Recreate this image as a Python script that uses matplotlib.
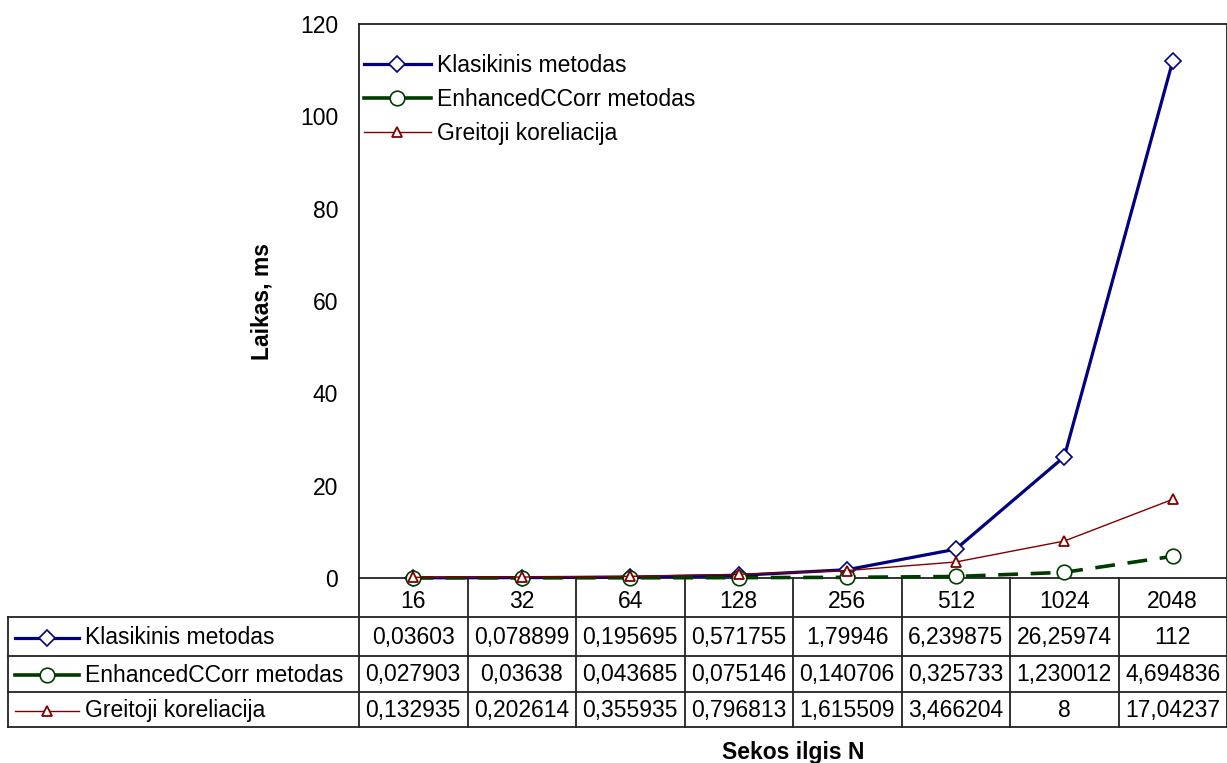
import matplotlib.pyplot as plt
from matplotlib.lines import Line2D
import matplotlib.transforms as mtransforms

plt.rcParams['font.family'] = ['Liberation Sans', 'DejaVu Sans']

# sequence lengths and timings (ms)
lengths = ['16', '32', '64', '128', '256', '512', '1024', '2048']
klasikinis = [0.03603, 0.078899, 0.195695, 0.571755, 1.79946, 6.239875, 26.25974, 112]
enhanced = [0.027903, 0.03638, 0.043685, 0.075146, 0.140706, 0.325733, 1.230012, 4.694836]
greitoji = [0.132935, 0.202614, 0.355935, 0.796813, 1.615509, 3.466204, 8, 17.04237]

klasikinis_txt = ['0,03603', '0,078899', '0,195695', '0,571755', '1,79946', '6,239875', '26,25974', '112']
enhanced_txt = ['0,027903', '0,03638', '0,043685', '0,075146', '0,140706', '0,325733', '1,230012', '4,694836']
greitoji_txt = ['0,132935', '0,202614', '0,355935', '0,796813', '1,615509', '3,466204', '8', '17,04237']

series_names = ['Klasikinis metodas', 'EnhancedCCorr metodas', 'Greitoji koreliacija']

W, H = 1227, 763
fig = plt.figure(figsize=(W / 100, H / 100), dpi=100)

def fx(px):
    return px / W

def fy(py):
    return 1 - py / H

ax_l, ax_r, ax_t, ax_b = 359, 1227, 24, 578
ax = fig.add_axes([fx(ax_l), fy(ax_b), fx(ax_r - ax_l), (ax_b - ax_t) / H])

styles = [
    dict(color='#000080', lw=2.3, marker='D', ms=8, mfc='white', mec='#000080', mew=1.2, ls='-'),
    dict(color='#003c00', lw=2.6, marker='o', ms=10.5, mfc='white', mec='#003c00', mew=1.2, ls=(0, (5.5, 3.5))),
    dict(color='#800000', lw=1.0, marker='^', ms=7.5, mfc='white', mec='#800000', mew=1.3, ls='-'),
]

x = list(range(len(lengths)))
for vals, st in zip([klasikinis, enhanced, greitoji], styles):
    ax.plot(x, vals, clip_on=False, zorder=3, **st)

ax.set_xlim(-0.5, len(lengths) - 0.5)
ax.set_ylim(0, 120)
ax.set_yticks(range(0, 121, 20))
ax.set_xticks(x)
ax.set_xticklabels(lengths)
ax.tick_params(axis='both', length=0, labelsize=16.5)
ax.tick_params(axis='y', pad=15)
ax.tick_params(axis='x', pad=9)
for s in ax.spines.values():
    s.set_linewidth(1.3)
    s.set_color('#222222')

ax.set_ylabel('Laikas, ms', fontsize=16.5, fontweight='bold', labelpad=19)
fig.text(fx(793), fy(752), 'Sekos ilgis N', fontsize=16.5, fontweight='bold',
         ha='center', va='center')

# legend with solid handles
handles = []
for st in styles:
    hs = dict(st)
    hs['ls'] = '-'
    handles.append(Line2D([], [], **hs))
ax.legend(handles, series_names, loc='upper left', bbox_to_anchor=(-0.01, 0.97),
          frameon=False, fontsize=16.5, handlelength=2.9, handletextpad=0.3,
          labelspacing=0.48, borderaxespad=0.2)

# data table below the axes
rows_y = [617, 656, 692, 727]
tb_left = 8
lc = '#222222'
for yy in rows_y:
    fig.add_artist(Line2D([fx(tb_left), fx(W)], [fy(yy), fy(yy)], color=lc, lw=1.3))
fig.add_artist(Line2D([fx(tb_left), fx(tb_left)], [fy(rows_y[0]), fy(rows_y[-1])], color=lc, lw=1.3))
col_w = (ax_r - ax_l) / len(lengths)
for i in range(len(lengths) + 1):
    xx = ax_l + i * col_w
    fig.add_artist(Line2D([fx(xx), fx(xx)], [fy(ax_b), fy(rows_y[-1])], color=lc, lw=1.3))

trans = mtransforms.blended_transform_factory(ax.transData, fig.transFigure)
row_texts = [klasikinis_txt, enhanced_txt, greitoji_txt]
for r, (txts, name, st) in enumerate(zip(row_texts, series_names, styles)):
    yc = (rows_y[r] + rows_y[r + 1]) / 2 + 1
    for i, t in enumerate(txts):
        ax.text(i, fy(yc), t, transform=trans, ha='center', va='center',
                fontsize=16.5, clip_on=False)
    hs = dict(st)
    hs['ls'] = '-'
    fig.add_artist(Line2D([fx(15), fx(47), fx(79)], [fy(yc)] * 3, markevery=[1], **hs))
    fig.text(fx(85), fy(yc), name, fontsize=16.5, ha='left', va='center')

fig.savefig('out.png', dpi=100)
